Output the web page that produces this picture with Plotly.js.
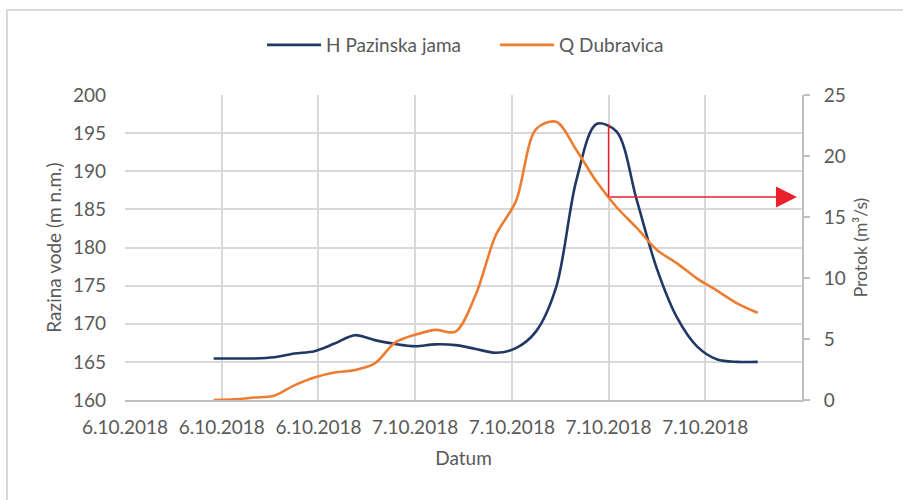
<!DOCTYPE html>
<html>
<head>
<meta charset="utf-8">
<script src="https://cdn.plot.ly/plotly-3.0.1.min.js"></script>
<style>html,body{margin:0;padding:0;background:#fff;}#chart{width:903px;height:500px;}</style>
</head>
<body>
<div id="chart"></div>
<script>
// Hours since 6.10.2018 00:00 (hourly readings, 6.10 14:00 to 7.10 17:00)
const hours = [14,15,16,17,18,19,20,21,22,23,24,25,26,27,28,29,30,31,32,33,34,35,36,37,38,39,40,41];
// H Pazinska jama (m n.m.)
const hPazinska = [165.45,165.45,165.45,165.6,166.1,166.4,167.4,168.5,167.85,167.35,167.05,167.3,167.2,166.7,166.2,166.8,169.0,174.8,188.8,196.2,195.2,186.2,177.2,170.8,167.0,165.3,165.0,165.0];
// Q Dubravica (m3/s)
const qDubravica = [0.0,0.05,0.2,0.35,1.2,1.85,2.25,2.45,3.0,4.7,5.35,5.75,5.6,8.6,13.5,16.3,22.2,22.8,20.5,17.9,15.8,14.1,12.3,11.2,9.95,8.95,7.9,7.15];
// x-axis ticks (every 4.8 h)
const tickVals = [9.6,14.4,19.2,24,28.8,33.6,38.4];
const tickText = ["6.10.2018","6.10.2018","6.10.2018","7.10.2018","7.10.2018","7.10.2018","7.10.2018"];
const xRange = [9.6,43.2];
const arrowX = 33.6, arrowTipX = 42.95;

function interp(xs, ys, x){
  for(let i=0;i<xs.length-1;i++){
    if(x>=xs[i] && x<=xs[i+1]){const f=(x-xs[i])/(xs[i+1]-xs[i]);return ys[i]+f*(ys[i+1]-ys[i]);}
  }
  return ys[ys.length-1];
}
const peakH = Math.max(...hPazinska);
const qAtArrow = interp(hours, qDubravica, arrowX);

const FONT = "Lato, 'Open Sans', sans-serif";
const GREY = "#595959";

const traces = [
  {x: hours, y: hPazinska, name: "H Pazinska jama", type: "scatter", mode: "lines",
   line: {color: "#203864", width: 2.6, shape: "spline", smoothing: 0.9}, yaxis: "y"},
  {x: hours, y: qDubravica, name: "Q Dubravica", type: "scatter", mode: "lines",
   line: {color: "#ed7d31", width: 2.6, shape: "spline", smoothing: 0.9}, yaxis: "y2"}
];

const layout = {
  width: 903, height: 500,
  margin: {l: 125, r: 101, t: 95, b: 100},
  paper_bgcolor: "#fff", plot_bgcolor: "#fff",
  font: {family: FONT, size: 18, color: GREY},
  showlegend: true,
  legend: {orientation: "h", x: 0.2024, xanchor: "left", y: 1.164, yanchor: "middle",
           font: {family: FONT, size: 19, color: GREY}, itemwidth: 54,
           entrywidth: 164, entrywidthmode: "pixels", traceorder: "normal"},
  xaxis: {range: xRange, tickmode: "array", tickvals: tickVals, ticktext: tickText,
          showgrid: true, gridcolor: "#d9d9d9", gridwidth: 2, zeroline: false,
          showline: true, linecolor: "#bfbfbf", linewidth: 2, ticks: "",
          ticklabelstandoff: 9, tickfont: {family: FONT, size: 19, color: GREY},
          title: {text: "Datum", font: {family: FONT, size: 19, color: GREY}, standoff: 15}},
  yaxis: {range: [160, 200], dtick: 5, showgrid: true, gridcolor: "#d9d9d9", gridwidth: 2,
          zeroline: false, showline: false, ticks: "", ticklabelstandoff: 18,
          tickfont: {family: FONT, size: 19, color: GREY},
          title: {text: "Razina vode (m n.m.)", font: {family: FONT, size: 19, color: GREY}, standoff: 6}},
  yaxis2: {range: [0, 25], dtick: 5, overlaying: "y", side: "right", showgrid: false,
           zeroline: false, showline: true, linecolor: "#bfbfbf", linewidth: 2,
           ticks: "outside", ticklen: 6, tickcolor: "#bfbfbf", tickwidth: 2, ticklabelstandoff: 10,
           tickfont: {family: FONT, size: 19, color: GREY},
           title: {text: "Protok (m³/s)", font: {family: FONT, size: 17.5, color: GREY}, standoff: 10}},
  shapes: [
    {type: "rect", xref: "paper", yref: "paper", x0: -0.1743, x1: 1.3, y0: -0.5, y1: 1.2787,
     line: {color: "#d9d9d9", width: 2}, fillcolor: "rgba(0,0,0,0)", layer: "below"},
    {type: "line", xref: "x", yref: "y", x0: arrowX, x1: arrowX, y0: peakH, y1: 160 + qAtArrow / 25 * 40,
     line: {color: "#e8212b", width: 1.5}}
  ],
  annotations: [
    {xref: "x", yref: "y2", axref: "x", ayref: "y2", x: arrowTipX, y: qAtArrow, ax: arrowX, ay: qAtArrow,
     showarrow: true, arrowhead: 2, arrowsize: 2.8, arrowwidth: 1.5, arrowcolor: "#e8212b", text: ""}
  ]
};

Plotly.newPlot("chart", traces, layout, {displayModeBar: false, staticPlot: true});
</script>
</body>
</html>
